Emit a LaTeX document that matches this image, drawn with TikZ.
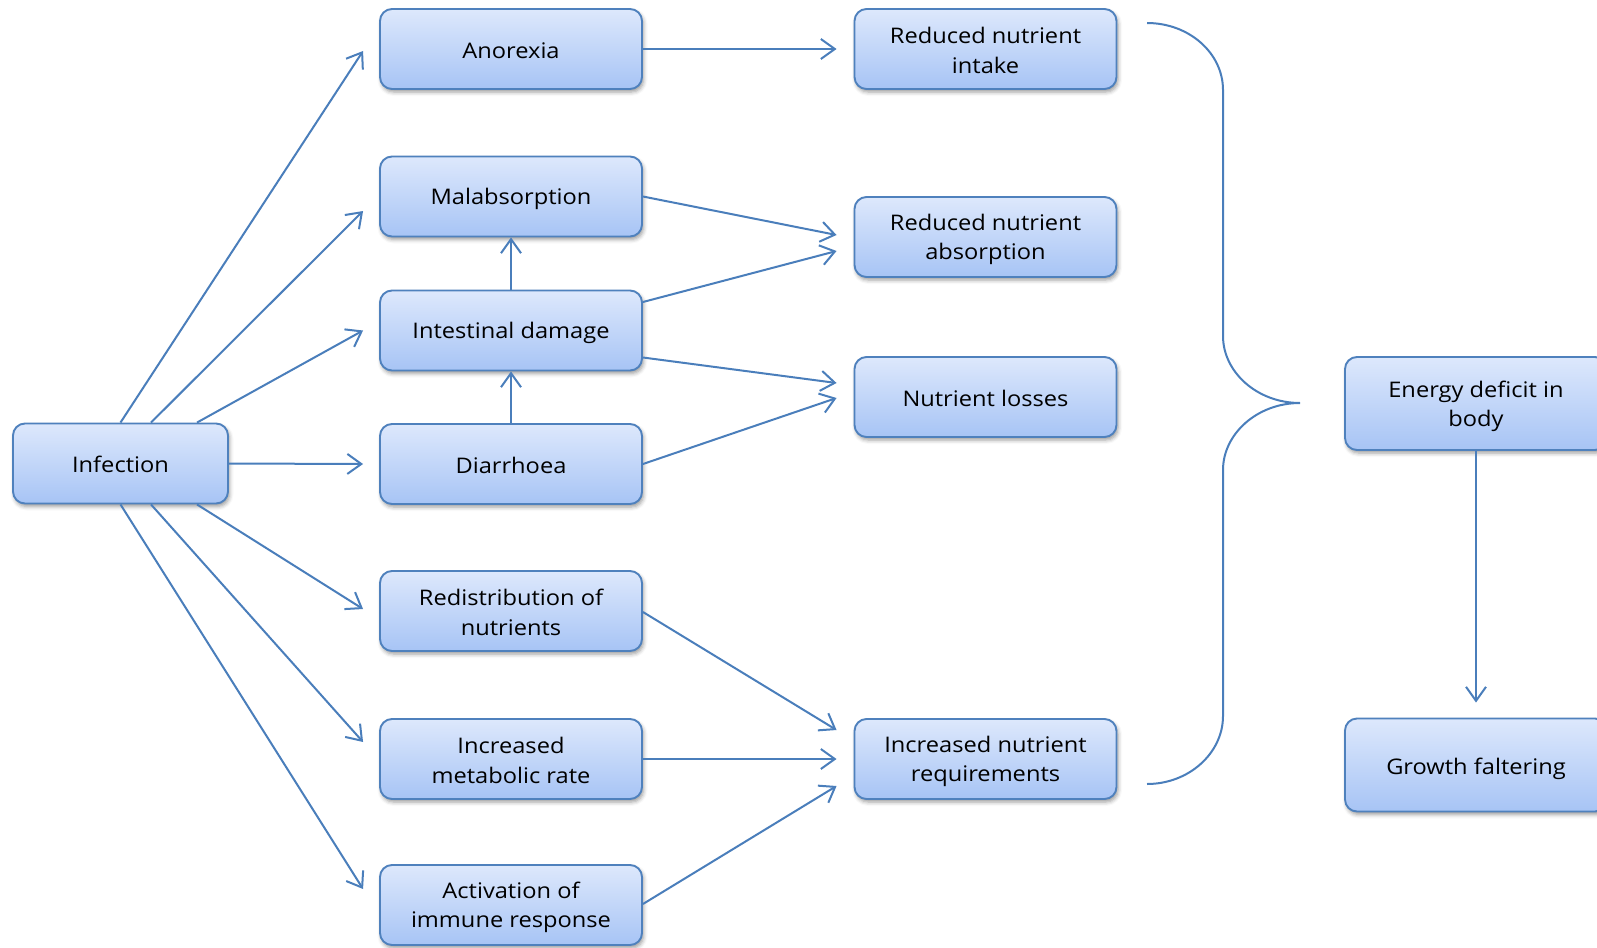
\documentclass[tikz,border=0pt]{standalone}
\usepackage{fontspec}
\setmainfont{Open Sans}[FakeStretch=1.1]
\usetikzlibrary{arrows.meta,shadows.blur}
\definecolor{edgeblue}{HTML}{4F81BD}
\definecolor{boxtop}{HTML}{DDE8FC}
\definecolor{boxbot}{HTML}{A7C4F5}
\definecolor{linkblue}{HTML}{4A7EBB}
% strut that opens the first line of a two-line label
\newcommand\boxstrut[1][20.8pt]{\rule{0pt}{#1}}

\begin{document}
\begin{tikzpicture}[x=1pt,y=-1pt,
  box/.style={draw=edgeblue, line width=1.9pt, rounded corners=12pt,
    top color=boxtop, bottom color=boxbot, text=black,
    minimum width=262pt, minimum height=80pt, align=center, inner sep=0pt,
    font=\fontsize{21.5}{29.5}\selectfont,
    execute at begin node={\rule{0pt}{20.5pt}},
    execute at end node={\rule[-2pt]{0pt}{0pt}},
    blur shadow={shadow xshift=1.5pt, shadow yshift=-3pt,
      shadow blur radius=4pt, shadow opacity=40}},
  tall/.style={minimum height=93pt, execute at begin node={\rule{0pt}{24.5pt}}},
  link/.style={draw=linkblue, line width=2pt,
    -{Straight Barb[length=14pt,width=20pt,line width=2pt]}},
  brace/.style={draw=linkblue, line width=2pt}]

\useasboundingbox (0,0) rectangle (1597,947);

% cause
\node[box, minimum width=215pt] (inf) at (120.5,463.5) {Infection};

% direct effects
\node[box] (ano) at (511,49)    {Anorexia};
\node[box] (mal) at (511,196.5) {Malabsorption};
\node[box] (int) at (511,330.5) {Intestinal damage};
\node[box] (dia) at (511,464)   {Diarrhoea};
\node[box] (red) at (511,611)   {\boxstrut Redistribution of\\nutrients};
\node[box] (met) at (511,759)   {\boxstrut Increased\\metabolic rate};
\node[box] (imm) at (511,905)   {\boxstrut Activation of\\immune response};

% nutritional consequences
\node[box] (rni) at (985.5,49)  {\boxstrut Reduced nutrient\\intake};
\node[box] (rna) at (985.5,237) {\boxstrut Reduced nutrient\\absorption};
\node[box] (nl)  at (985.5,397) {Nutrient losses};
\node[box] (inr) at (985.5,759) {\boxstrut Increased nutrient\\requirements};

% outcome
\node[box,tall] (ene) at (1476,403.5) {\boxstrut[22.3pt]Energy deficit in\\body};
\node[box,tall] (gro) at (1476,765)   {Growth faltering};

% infection fan-out
\draw[link] (inf.north) -- ([shift={(-16,2)}]ano.west);
\draw[link] ([shift={(30.5,0)}]inf.north) -- ([shift={(-16,14.5)}]mal.west);
\draw[link] ([shift={(76.5,0)}]inf.north) -- ([shift={(-16,0)}]int.west);
\draw[link] (inf.east) -- ([shift={(-16,0)}]dia.west);
\draw[link] ([shift={(76.5,0)}]inf.south) -- ([shift={(-16,-2)}]red.west);
\draw[link] ([shift={(30.5,0)}]inf.south) -- ([shift={(-16,-17)}]met.west);
\draw[link] (inf.south) -- ([shift={(-16,-16)}]imm.west);

% chain within the gut
\draw[link] (dia.north) -- (int.south);
\draw[link] (int.north) -- (mal.south);

% effects to consequences
\draw[link] (ano.east) -- ([shift={(-17,0)}]rni.west);
\draw[link] (mal.east) -- ([shift={(-17,-2)}]rna.west);
\draw[link] ([shift={(0,-28.5)}]int.east) -- ([shift={(-17,14)}]rna.west);
\draw[link] ([shift={(0,27)}]int.east) -- ([shift={(-17,-14)}]nl.west);
\draw[link] (dia.east) -- ([shift={(-17,1)}]nl.west);
\draw[link] ([shift={(0,1)}]red.east) -- ([shift={(-17,-29)}]inr.west);
\draw[link] (met.east) -- ([shift={(-17,0)}]inr.west);
\draw[link] ([shift={(0,-1)}]imm.east) -- ([shift={(-17,27)}]inr.west);

% grouping brace
\draw[brace] (1147,23) .. controls (1189,23) and (1223,53) .. (1223,90)
  -- (1223,336) .. controls (1223,372) and (1257,403) .. (1300,403)
  .. controls (1257,403) and (1223,434) .. (1223,470)
  -- (1223,716) .. controls (1223,753) and (1189,784) .. (1147,784);

% outcome arrow
\draw[link] (ene.south) -- ([shift={(0,-15)}]gro.north);

\end{tikzpicture}
\end{document}
